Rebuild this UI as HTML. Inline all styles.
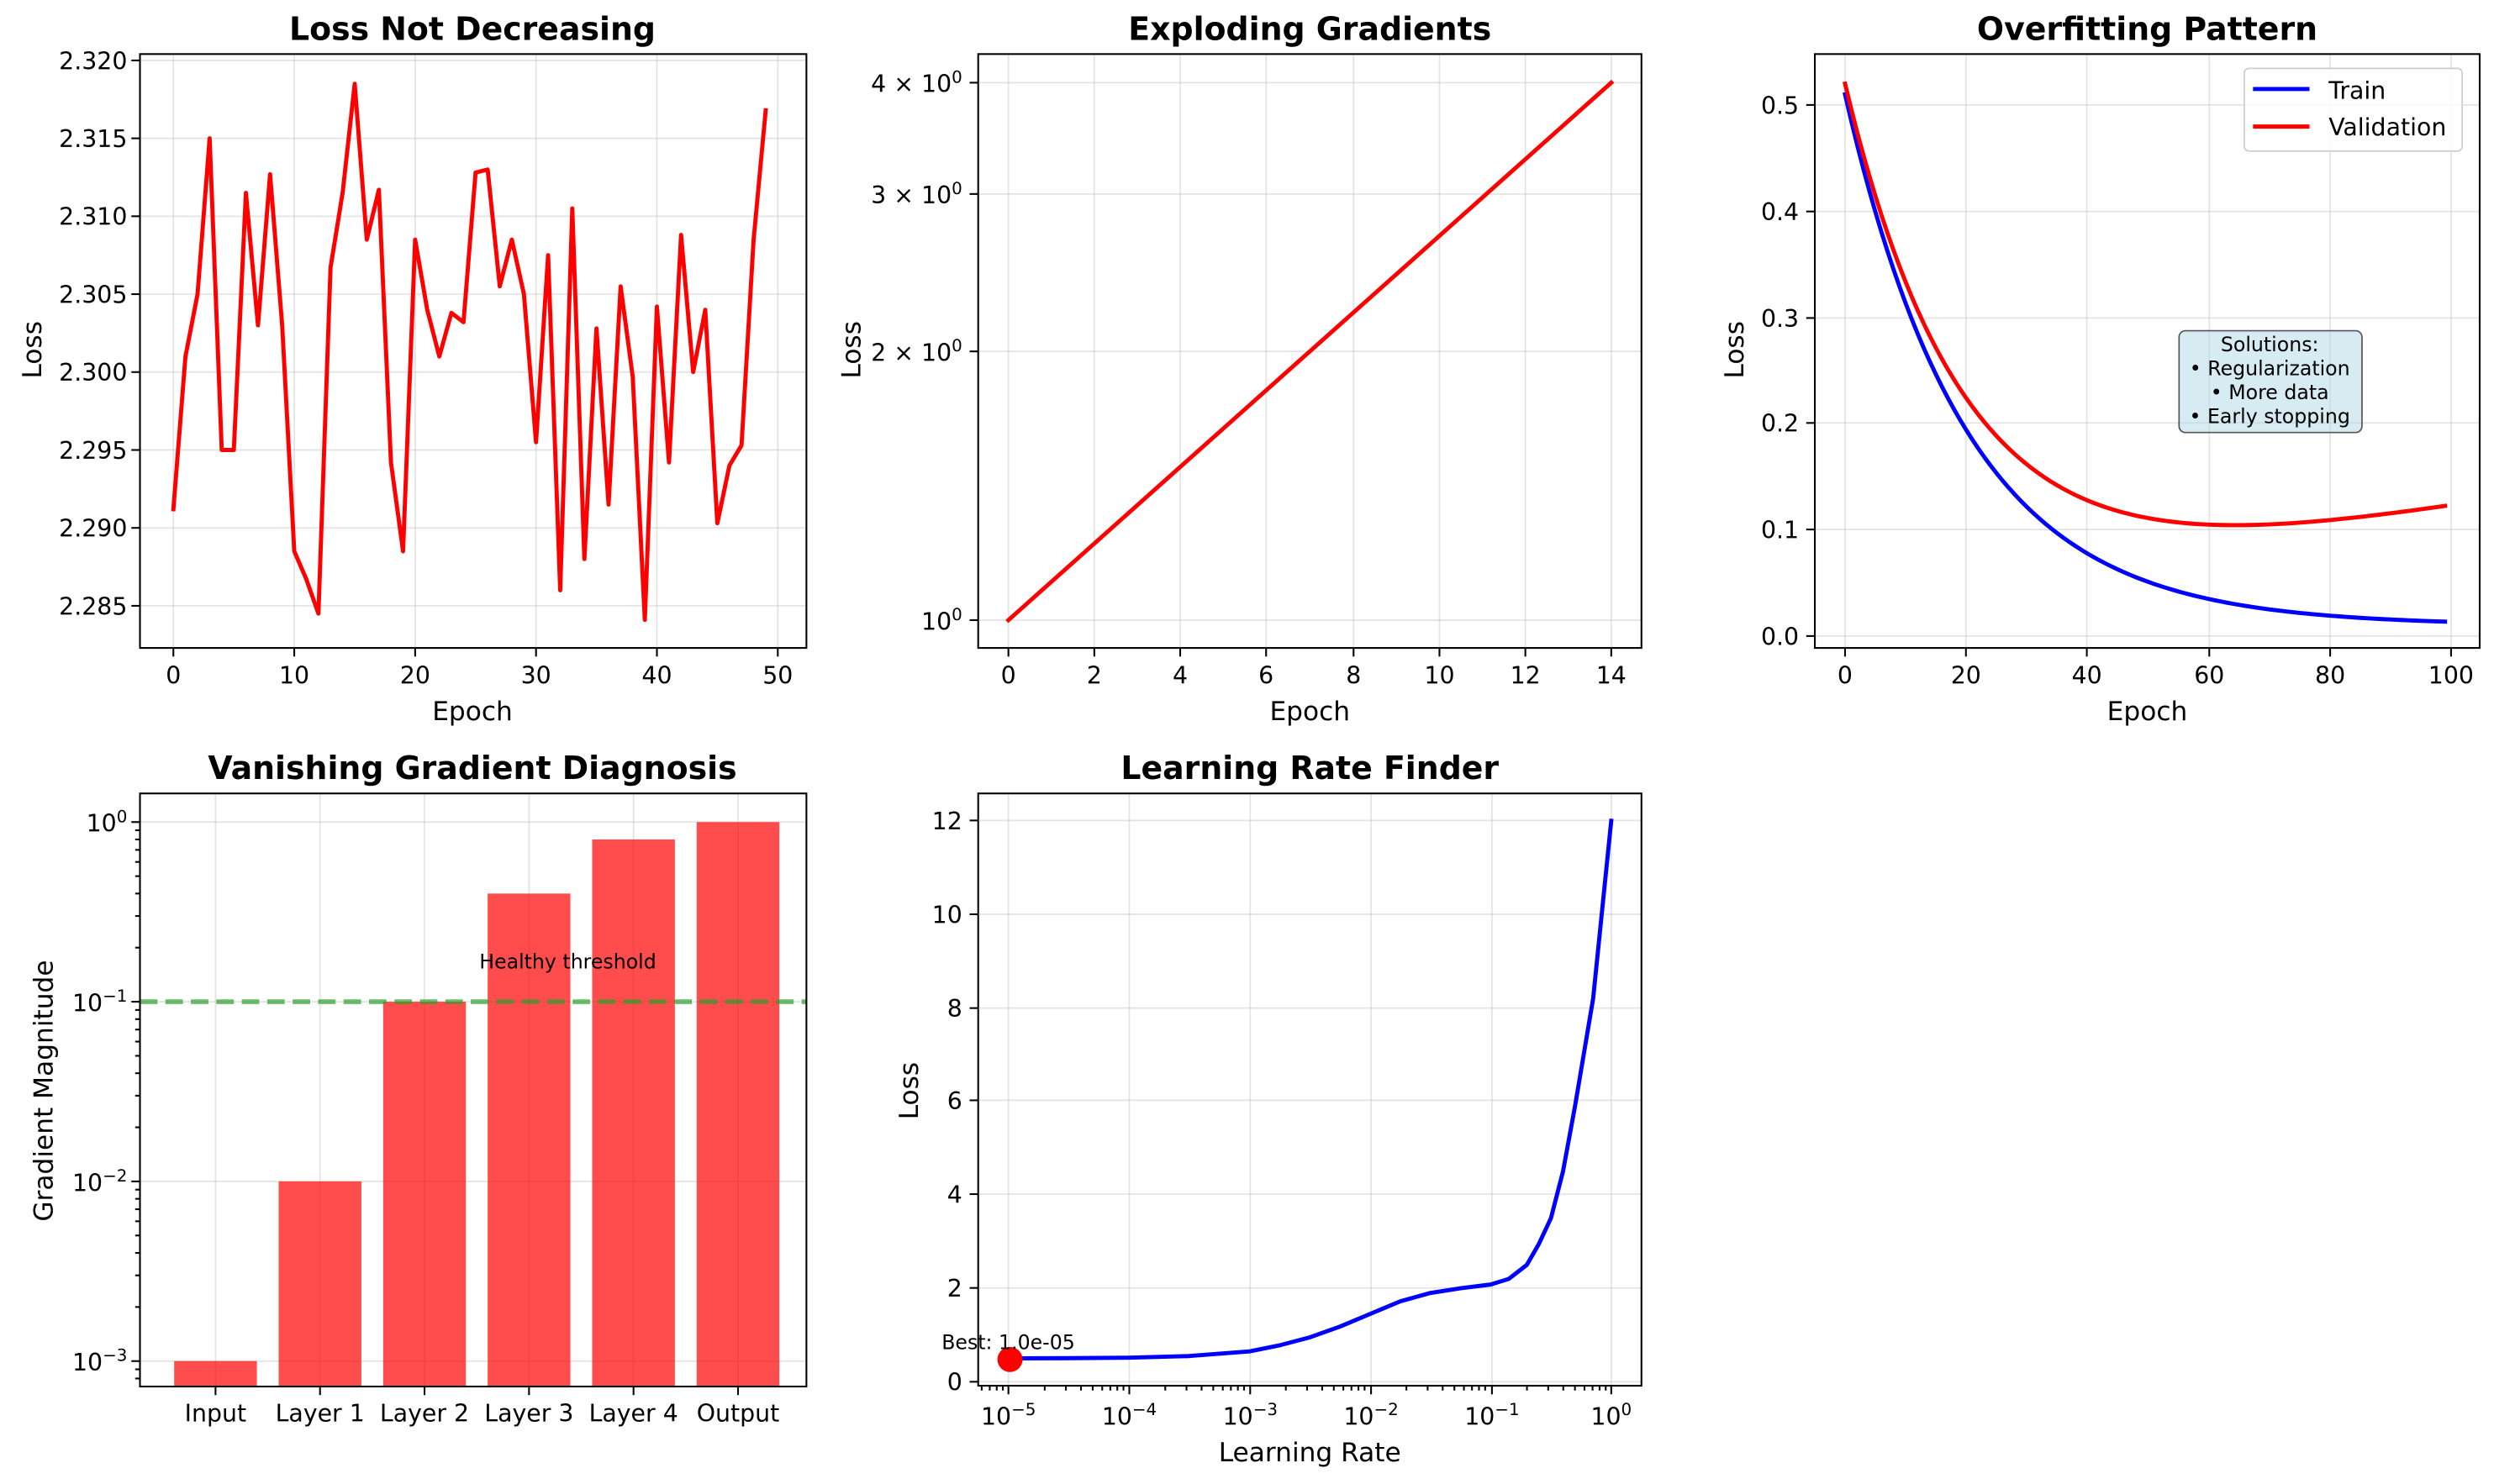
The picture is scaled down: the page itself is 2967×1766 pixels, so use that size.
<!DOCTYPE html>
<html><head><meta charset="utf-8"><style>
html,body{margin:0;padding:0;background:#fff}
svg{display:block}
text{font-family:"DejaVu Sans","Liberation Sans",sans-serif;fill:#000}
.t{font-size:20px;font-weight:bold;text-anchor:middle}
.tk{font-size:15px}
.r{text-anchor:end}
.m{text-anchor:middle}
.lab{font-size:16.5px;text-anchor:middle}
.g{stroke:#b0b0b0;stroke-width:0.9;stroke-opacity:0.35}
.ax{fill:none;stroke:#000;stroke-width:1.1}
.tick{stroke:#000;stroke-width:1.1}
</style></head><body>
<svg width="2967" height="1766" viewBox="0 0 1568 933.3" xmlns="http://www.w3.org/2000/svg">
<rect width="1568" height="933.3" fill="#fff"/>
<g id="grids"></g>
<g id="bars"></g>
<g id="lines"></g>
<g id="axes"></g>

<!-- Panel 1 -->
<text class="t" x="297" y="25">Loss Not Decreasing</text>
<g class="tk">
<text class="r" x="80" y="43.5">2.320</text><text class="r" x="80" y="92.5">2.315</text><text class="r" x="80" y="141.5">2.310</text>
<text class="r" x="80" y="190.5">2.305</text><text class="r" x="80" y="239.5">2.300</text><text class="r" x="80" y="288.5">2.295</text>
<text class="r" x="80" y="337.5">2.290</text><text class="r" x="80" y="386.5">2.285</text>
<text class="m" x="109" y="430">0</text><text class="m" x="185" y="430">10</text><text class="m" x="261" y="430">20</text>
<text class="m" x="337" y="430">30</text><text class="m" x="413" y="430">40</text><text class="m" x="489" y="430">50</text>
</g>
<text class="lab" x="297" y="453">Epoch</text>
<text class="lab" transform="translate(26,220) rotate(-90)">Loss</text>

<!-- Panel 2 -->
<text class="t" x="823.5" y="25">Exploding Gradients</text>
<g class="tk">
<text class="r" x="605" y="396">10<tspan font-size="10.5" dy="-6">0</tspan></text>
<text class="r" x="605" y="227">2 × 10<tspan font-size="10.5" dy="-6">0</tspan></text>
<text class="r" x="605" y="128">3 × 10<tspan font-size="10.5" dy="-6">0</tspan></text>
<text class="r" x="605" y="58">4 × 10<tspan font-size="10.5" dy="-6">0</tspan></text>
<text class="m" x="634" y="430">0</text><text class="m" x="688" y="430">2</text><text class="m" x="742" y="430">4</text>
<text class="m" x="796" y="430">6</text><text class="m" x="851" y="430">8</text><text class="m" x="905" y="430">10</text>
<text class="m" x="959" y="430">12</text><text class="m" x="1013" y="430">14</text>
</g>
<text class="lab" x="823.5" y="453">Epoch</text>
<text class="lab" transform="translate(541,220) rotate(-90)">Loss</text>

<!-- Panel 3 -->
<text class="t" x="1350" y="25">Overfitting Pattern</text>
<g class="tk">
<text class="r" x="1131" y="405.5">0.0</text><text class="r" x="1131" y="338.5">0.1</text><text class="r" x="1131" y="271.5">0.2</text>
<text class="r" x="1131" y="205.5">0.3</text><text class="r" x="1131" y="138.5">0.4</text><text class="r" x="1131" y="71.5">0.5</text>
<text class="m" x="1160" y="430">0</text><text class="m" x="1236" y="430">20</text><text class="m" x="1312" y="430">40</text>
<text class="m" x="1389" y="430">60</text><text class="m" x="1465" y="430">80</text><text class="m" x="1541" y="430">100</text>
</g>
<text class="lab" x="1350" y="453">Epoch</text>
<text class="lab" transform="translate(1096,220) rotate(-90)">Loss</text>
<rect x="1411" y="43" width="137" height="52" rx="3" fill="#fff" fill-opacity="0.8" stroke="#ccc" stroke-width="0.9"/>
<line x1="1416.5" y1="56" x2="1452" y2="56" stroke="#0000ff" stroke-width="2.6"/>
<line x1="1416.5" y1="79.6" x2="1452" y2="79.6" stroke="#ff0000" stroke-width="2.6"/>
<text x="1464" y="62" font-size="15">Train</text>
<text x="1464" y="85" font-size="15">Validation</text>
<rect x="1370" y="208" width="115" height="64" rx="4" fill="#add8e6" fill-opacity="0.5" stroke="#555" stroke-width="0.9"/>
<g font-size="12.5" text-anchor="middle">
<text x="1427" y="221">Solutions:</text>
<text x="1427" y="236">• Regularization</text>
<text x="1427" y="251">• More data</text>
<text x="1427" y="266">• Early stopping</text>
</g>

<!-- Panel 4 -->
<text class="t" x="297" y="490">Vanishing Gradient Diagnosis</text>
<g class="tk">
<text class="r" x="80" y="523">10<tspan font-size="10.5" dy="-6">0</tspan></text>
<text class="r" x="80" y="636">10<tspan font-size="10.5" dy="-6">−1</tspan></text>
<text class="r" x="80" y="749">10<tspan font-size="10.5" dy="-6">−2</tspan></text>
<text class="r" x="80" y="862">10<tspan font-size="10.5" dy="-6">−3</tspan></text>
<text class="m" x="135.5" y="894">Input</text><text class="m" x="201.2" y="894">Layer 1</text><text class="m" x="266.9" y="894">Layer 2</text>
<text class="m" x="332.6" y="894">Layer 3</text><text class="m" x="398.3" y="894">Layer 4</text><text class="m" x="464" y="894">Output</text>
</g>
<text class="lab" transform="translate(33,686) rotate(-90)">Gradient Magnitude</text>
<text x="357" y="609" font-size="12.5" text-anchor="middle">Healthy threshold</text>

<!-- Panel 5 -->
<text class="t" x="823.5" y="490">Learning Rate Finder</text>
<g class="tk">
<text class="r" x="605" y="874.5">0</text><text class="r" x="605" y="815.5">2</text><text class="r" x="605" y="756.5">4</text>
<text class="r" x="605" y="697.5">6</text><text class="r" x="605" y="639.5">8</text><text class="r" x="605" y="580.5">10</text><text class="r" x="605" y="521.5">12</text>
<text class="m" x="634" y="896">10<tspan font-size="10.5" dy="-6">−5</tspan></text>
<text class="m" x="710" y="896">10<tspan font-size="10.5" dy="-6">−4</tspan></text>
<text class="m" x="786" y="896">10<tspan font-size="10.5" dy="-6">−3</tspan></text>
<text class="m" x="862" y="896">10<tspan font-size="10.5" dy="-6">−2</tspan></text>
<text class="m" x="938" y="896">10<tspan font-size="10.5" dy="-6">−1</tspan></text>
<text class="m" x="1013" y="896">10<tspan font-size="10.5" dy="-6">0</tspan></text>
</g>
<text class="lab" x="823.5" y="919">Learning Rate</text>
<text class="lab" transform="translate(577,686) rotate(-90)">Loss</text>
<circle cx="635" cy="855" r="7.9" fill="#ff0000"/>
<text x="592" y="848.5" font-size="12.5">Best: 1.0e-05</text>
</svg>
<script>
const NS="http://www.w3.org/2000/svg";
function el(p,t,a){const e=document.createElementNS(NS,t);for(const k in a)e.setAttribute(k,a[k]);document.getElementById(p).appendChild(e);return e;}
function poly(p,pts,c,w){el(p,"polyline",{points:pts.map(q=>q[0].toFixed(2)+","+q[1].toFixed(2)).join(" "),fill:"none",stroke:c,"stroke-width":w,"stroke-linejoin":"round","stroke-linecap":"square"});}
function box(x0,x1,y0,y1,xt,yt){
  xt.forEach(x=>{el("grids","line",{x1:x,x2:x,y1:y0,y2:y1,class:"g"});el("axes","line",{x1:x,x2:x,y1:y1,y2:y1+5.4,class:"tick"});});
  yt.forEach(y=>{el("grids","line",{x1:x0,x2:x1,y1:y,y2:y,class:"g"});el("axes","line",{x1:x0-5.4,x2:x0,y1:y,y2:y,class:"tick"});});
  el("axes","rect",{x:x0,y:y0,width:x1-x0,height:y1-y0,class:"ax"});
}
// Panel 1
box(88,507,34,407.5,[109,185,261,337,413,489],[38,87,136,185,234,283,332,381]);
const d1=[2.2912,2.301,2.305,2.315,2.295,2.295,2.3115,2.303,2.3127,2.303,2.2885,2.2867,2.2845,2.3067,2.3115,2.3185,2.3085,2.3117,2.2942,2.2885,2.3085,2.304,2.301,2.3038,2.3032,2.3128,2.313,2.3055,2.3085,2.305,2.2955,2.3075,2.286,2.3105,2.288,2.3028,2.2915,2.3055,2.2997,2.2841,2.3042,2.2942,2.3088,2.300,2.304,2.2903,2.294,2.2953,2.3085,2.3168];
poly("lines",d1.map((v,i)=>[109+7.6*i,38+(2.32-v)/0.005*49]),"#ff0000",2.6);
// Panel 2
box(615,1032,34,407.5,[634,688,742,796,851,905,959,1013],[390,221,122,52]);
poly("lines",[[634,390],[1013,52]],"#ff0000",2.6);
// Panel 3
box(1141,1559,34,407.5,[1160,1236,1312,1389,1465,1541],[400,333,266,200,133,66]);
let tr=[],va=[];
for(let i=0;i<100;i++){const t=0.5*Math.exp(-i/20)+0.01;const v=t+0.01+0.001*i;tr.push([1160+3.81*i,400-668*t]);va.push([1160+3.81*i,400-668*v]);}
poly("lines",tr,"#0000ff",2.6);poly("lines",va,"#ff0000",2.6);
// Panel 4
box(88,507,499,872,[135.5,201.2,266.9,332.6,398.3,464],[517,630,743,856]);
for(let d=-4;d<0;d++)for(let m=2;m<10;m++){const y2=517+(-(d+Math.log10(m)))*113; if(y2>499&&y2<872)el("axes","line",{x1:85,x2:88,y1:y2,y2:y2,class:"tick"});}
[1e-3,1e-2,0.1,0.4,0.8,1].forEach((v,i)=>{const y=517-Math.log10(v)*113;const cx=135.5+65.7*i;el("bars","rect",{x:cx-26,y:y,width:52,height:872-y,fill:"#ff0000","fill-opacity":0.7});});
el("lines","line",{x1:88,x2:507,y1:630,y2:630,stroke:"#2ca02c","stroke-opacity":0.7,"stroke-width":3,"stroke-dasharray":"11,5"});
// Panel 5
box(615,1032,499,871.5,[634,710,786,862,938,1013],[869,810,751,692,634,575,516]);
for(let d=-6;d<1;d++)for(let m=2;m<10;m++){const x=634+(d+5+Math.log10(m))*75.8;if(x>615&&x<1032)el("axes","line",{x1:x,x2:x,y1:871.5,y2:874.5,class:"tick"});}
const k=[[-5,0.5],[-4.5,0.505],[-4,0.515],[-3.5,0.55],[-3,0.65],[-2.75,0.78],[-2.5,0.95],[-2.25,1.18],[-2,1.45],[-1.75,1.72],[-1.5,1.9],[-1.25,2.0],[-1,2.08],[-0.85,2.2],[-0.7,2.5],[-0.6,2.95],[-0.5,3.5],[-0.4,4.5],[-0.3,5.9],[-0.15,8.2],[0,12]];
poly("lines",k.map(q=>[634+(q[0]+5)*75.8,869-q[1]*29.4]),"#0000ff",2.6);
</script>
</body></html>
